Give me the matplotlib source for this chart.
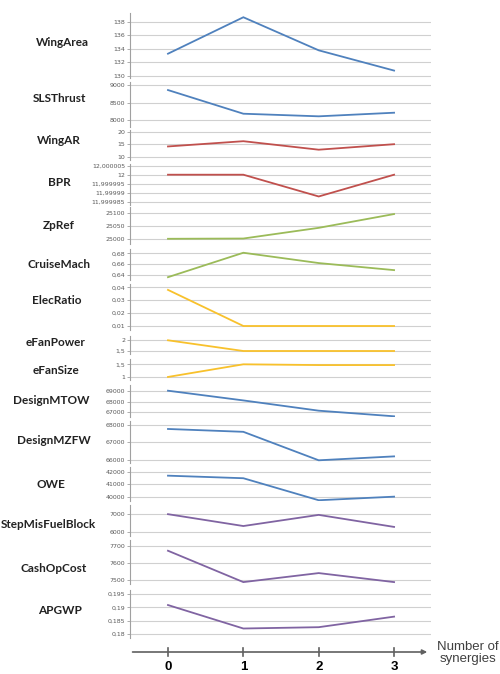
import matplotlib
matplotlib.use("Agg")
import matplotlib.pyplot as plt

# ---------------- data ----------------
synergies = [0, 1, 2, 3]
x_tick_labels = ["0", "1", "2", "3"]

panel_names = ["WingArea", "SLSThrust", "WingAR", "BPR", "ZpRef", "CruiseMach",
               "ElecRatio", "eFanPower", "eFanSize", "DesignMTOW", "DesignMZFW",
               "OWE", "StepMisFuelBlock", "CashOpCost", "APGWP"]

wing_area = [133.3, 138.7, 133.8, 130.8]
sls_thrust = [8850, 8185, 8112, 8213]
wing_ar = [14.1, 16.2, 12.8, 15.0]
bpr = [12.0, 12.0, 11.999988, 12.0]
zp_ref = [25000, 25001, 25042, 25095]
cruise_mach = [0.636, 0.681, 0.662, 0.649]
elec_ratio = [0.038, 0.010, 0.010, 0.010]
efan_power = [2.0, 1.5, 1.5, 1.5]
efan_size = [1.0, 1.5, 1.47, 1.47]
design_mtow = [69000, 68100, 67150, 66630]
design_mzfw = [67760, 67600, 66000, 66220]
owe = [41690, 41490, 39770, 40050]
step_mis_fuel_block = [6990, 6320, 6950, 6270]
cash_op_cost = [7671, 7490, 7542, 7490]
apgwp = [0.1909, 0.1820, 0.1825, 0.1865]

series = [wing_area, sls_thrust, wing_ar, bpr, zp_ref, cruise_mach, elec_ratio,
          efan_power, efan_size, design_mtow, design_mzfw, owe,
          step_mis_fuel_block, cash_op_cost, apgwp]

y_ticks = [
    [130, 132, 134, 136, 138],
    [8000, 8500, 9000],
    [10, 15, 20],
    [11.999985, 11.99999, 11.999995, 12.0, 12.000005],
    [25000, 25050, 25100],
    [0.64, 0.66, 0.68],
    [0.01, 0.02, 0.03, 0.04],
    [1.5, 2],
    [1, 1.5],
    [67000, 68000, 69000],
    [66000, 67000, 68000],
    [40000, 41000, 42000],
    [6000, 7000],
    [7500, 7600, 7700],
    [0.18, 0.185, 0.19, 0.195],
]

# ---------------- layout / style ----------------
BLUE, RED, GREEN, GOLD, PURPLE = "#4F81BD", "#C0504D", "#9BBB59", "#F8C12C", "#8064A2"
colors = [BLUE, BLUE, RED, RED, GREEN, GREEN, GOLD, GOLD, GOLD,
          BLUE, BLUE, BLUE, PURPLE, PURPLE, PURPLE]

# (top px, bottom px, ymin, ymax)
layout = [
    (13, 78, 129.70, 139.33),
    (82, 127, 7812, 9076),
    (130, 160, 8.68, 20.68),
    (164, 205, 11.9999833, 12.0000059),
    (207, 244, 24980, 25122),
    (249, 280, 0.6308, 0.6879),
    (284, 330, 0.0069, 0.04256),
    (336, 354, 1.36, 2.20),
    (359, 380, 0.88, 1.71),
    (385, 417, 66565, 69528),
    (421, 463, 65848, 68208),
    (467, 501, 39711, 42367),
    (505, 536, 5757, 7508),
    (540, 584, 7479, 7733),
    (590, 638, 0.1784, 0.1966),
]
title_pos = [(62, 43), (59, 99), (59, 141), (59, 182), (59, 226), (59, 264),
             (57, 301), (56, 343), (56, 371), (51, 401), (54, 441), (51, 485),
             (48, 525), (54, 569), (60, 611)]

W, H = 500, 674
X0, X1 = 130, 431
XLIM = (-0.504, 3.49)

fig = plt.figure(figsize=(W / 100, H / 100), dpi=100)
fig.patch.set_facecolor("white")


def fmt(v):
    s = f"{v:.6f}".rstrip("0").rstrip(".")
    return s.replace(".", ",")


for name, vals, ticks, col, (top, bot, ymin, ymax), (tx, ty) in zip(
        panel_names, series, y_ticks, colors, layout, title_pos):
    ax = fig.add_axes([X0 / W, 1 - bot / H, (X1 - X0) / W, (bot - top) / H])
    ax.set_facecolor("none")
    ax.plot(synergies, vals, color=col, lw=1.3, solid_joinstyle="miter", zorder=3)
    ax.set_xlim(*XLIM)
    ax.set_ylim(ymin, ymax)
    ax.set_yticks(ticks)
    ax.set_yticklabels([fmt(t) for t in ticks])
    ax.set_xticks([])
    for s in ["top", "right", "bottom"]:
        ax.spines[s].set_visible(False)
    ax.spines["left"].set_color("#a0a0a0")
    ax.spines["left"].set_linewidth(0.8)
    ax.tick_params(axis="y", labelsize=4.5, labelcolor="#595959", length=2,
                   width=0.6, color="#a0a0a0", pad=1.5)
    ax.grid(axis="y", color="#d0d0d0", lw=0.8, zorder=0)
    ax.set_axisbelow(True)
    fig.text(tx / W, 1 - ty / H, name, ha="center", va="center",
             fontsize=8.5, fontweight="bold", family=["Lato", "DejaVu Sans"],
             color="#222222")

# bottom category axis with arrow
axb = fig.add_axes([X0 / W, 1 - 660 / H, (X1 - X0) / W, 16 / H])
axb.set_facecolor("none")
axb.set_xlim(*XLIM)
axb.set_ylim(-1, 1)
for s in axb.spines.values():
    s.set_visible(False)
axb.set_yticks([])
axb.annotate("", xy=(3.44, 0.0), xytext=(-0.47, 0.0),
             arrowprops=dict(arrowstyle="-|>", color="#606060", lw=1.2,
                             mutation_scale=7, shrinkA=0, shrinkB=0))
for xv in synergies:
    axb.plot([xv, xv], [-0.55, 0.55], color="#606060", lw=1.2)
axb.set_xticks(synergies)
axb.set_xticklabels(x_tick_labels)
axb.tick_params(axis="x", length=0, pad=0.5, labelsize=9.5)
for lab in axb.get_xticklabels():
    lab.set_fontweight("bold")
    lab.set_family(["Liberation Sans", "DejaVu Sans"])

fig.text(468 / W, 1 - 653 / H, "Number of\nsynergies", ha="center", va="center",
         fontsize=9.5, color="#404040", family=["Liberation Sans", "DejaVu Sans"],
         linespacing=1.05)

fig.savefig("out.png", dpi=100, facecolor="white")
